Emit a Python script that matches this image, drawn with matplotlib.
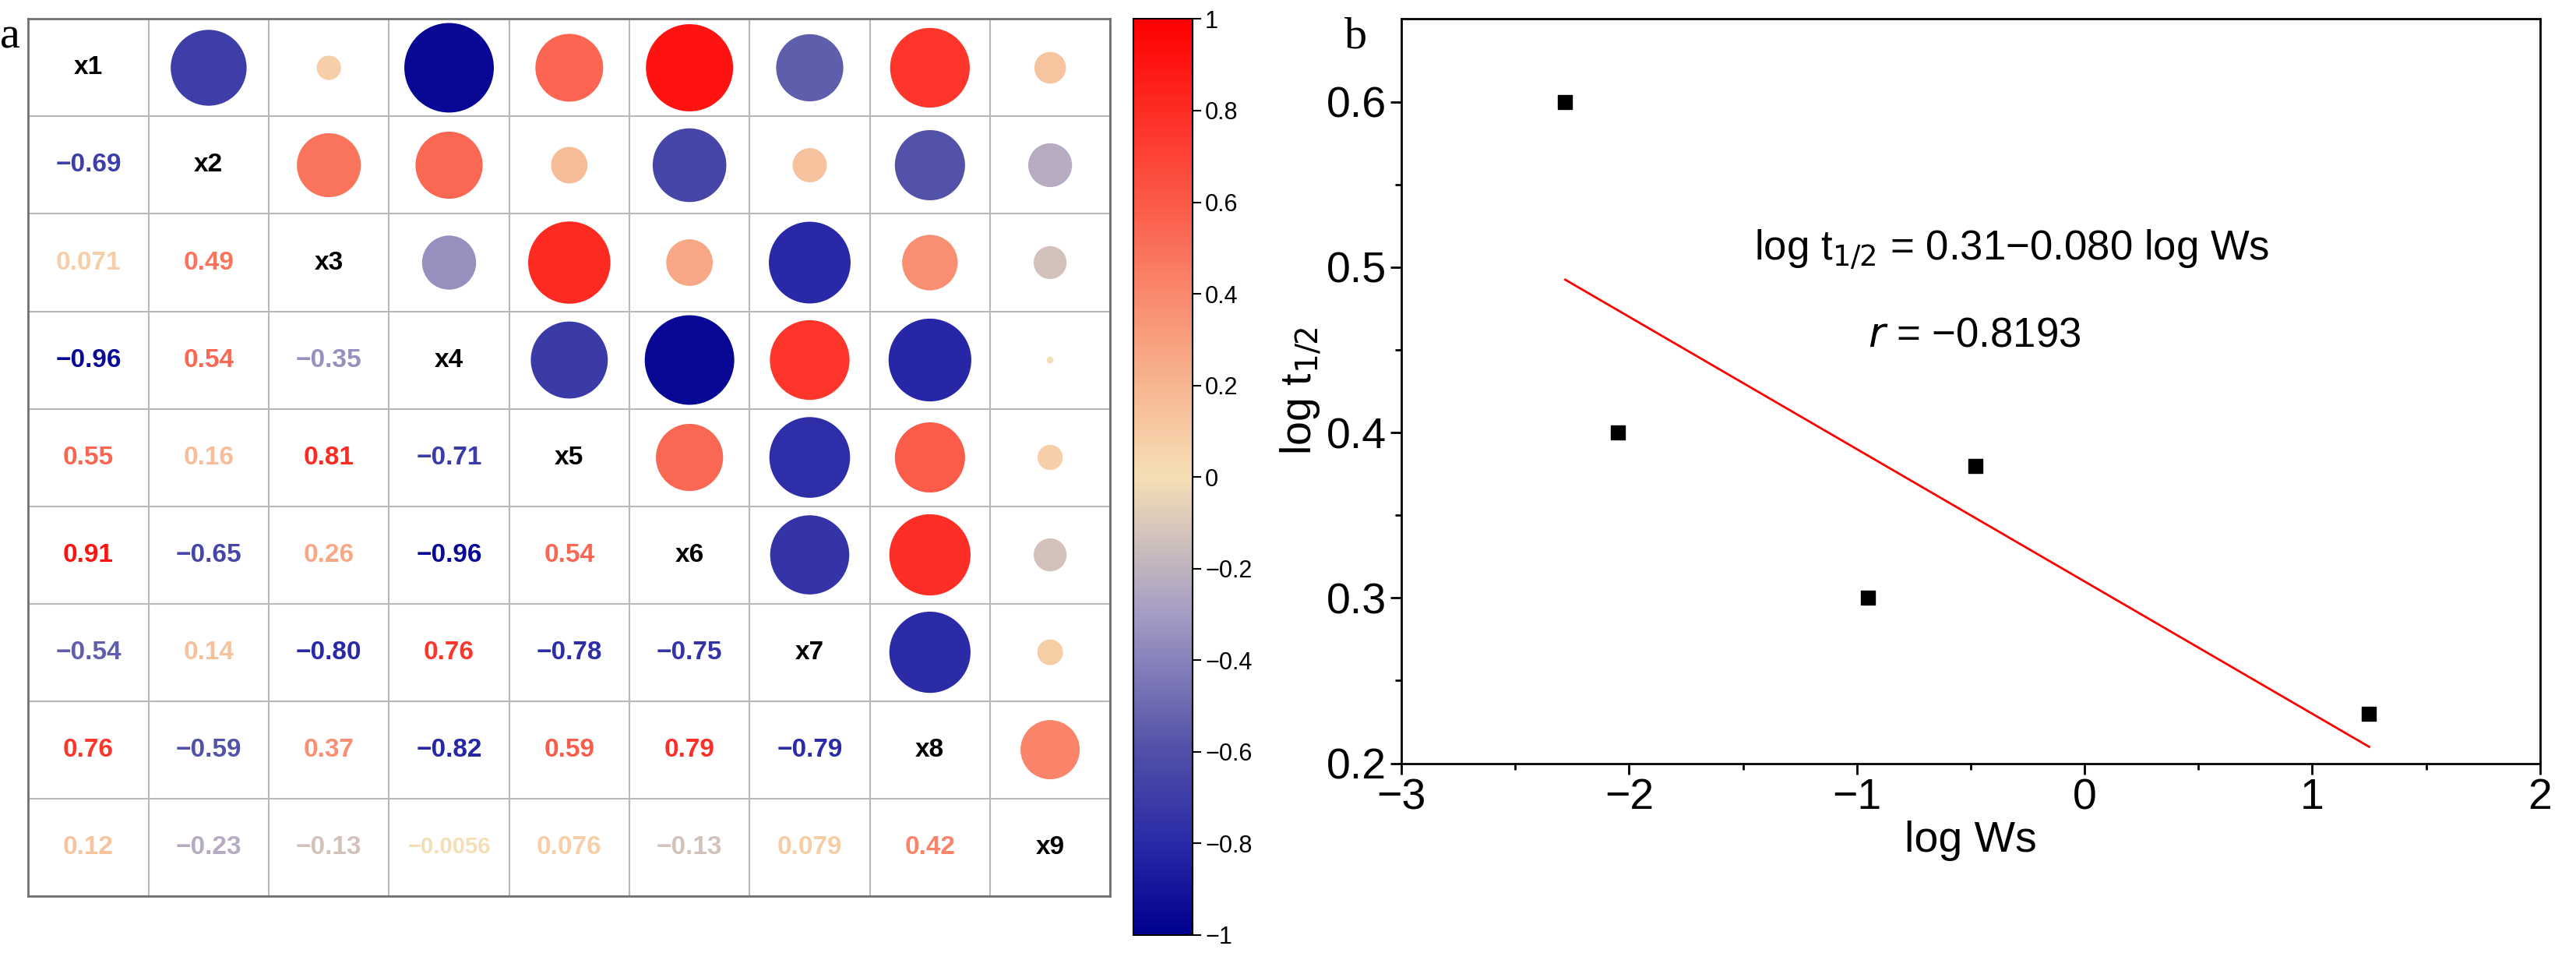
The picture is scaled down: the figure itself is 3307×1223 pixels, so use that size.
import numpy as np
import matplotlib
matplotlib.use("Agg")
import matplotlib.pyplot as plt
from matplotlib.colors import LinearSegmentedColormap, Normalize
from matplotlib.patches import Ellipse

labels = ["x1","x2","x3","x4","x5","x6","x7","x8","x9"]
lower = [
    [],
    [-0.69],
    [0.071, 0.49],
    [-0.96, 0.54, -0.35],
    [0.55, 0.16, 0.81, -0.71],
    [0.91, -0.65, 0.26, -0.96, 0.54],
    [-0.54, 0.14, -0.80, 0.76, -0.78, -0.75],
    [0.76, -0.59, 0.37, -0.82, 0.59, 0.79, -0.79],
    [0.12, -0.23, -0.13, -0.0056, 0.076, -0.13, 0.079, 0.42],
]
log_ws = [-2.28, -2.05, -0.95, -0.48, 1.25]
log_t = [0.60, 0.40, 0.30, 0.38, 0.23]
intercept, slope = 0.31, -0.080

cmap = LinearSegmentedColormap.from_list("c", [
    (0.0, "#00008f"), (0.1, "#2a2aa8"), (0.2, "#5050a8"), (0.35, "#a49cc4"), (0.5, "#f5dfb5"),
    (0.65, "#f8a080"), (0.8, "#fb5a48"), (1.0, "#ff0000")])
norm = Normalize(-1, 1)

fig = plt.figure(figsize=(33.07, 12.23), dpi=100)
ax = fig.add_axes([0.011, 0.06, 0.42, 0.92])
n = len(labels)
ax.set_xlim(0, n); ax.set_ylim(n, 0)
for k in range(n + 1):
    ax.axhline(k, color="#b8b8b8", lw=1.5)
    ax.axvline(k, color="#b8b8b8", lw=1.5)
ax.set_xticks([]); ax.set_yticks([])
for s in ax.spines.values():
    s.set_color("#707070"); s.set_linewidth(2)
bbox = ax.get_position()
W = bbox.width * 33.07; H = bbox.height * 12.23
sy = W / H
for i in range(n):
    ax.text(i + 0.5, i + 0.5, labels[i], ha="center", va="center",
            fontsize=24, fontweight="bold", color="black", family="Liberation Sans")
    for j in range(i):
        r = lower[i][j]
        c = cmap(norm(r))
        if abs(r) >= 0.1: txt = f"{r:.2f}"
        elif abs(r) >= 0.01: txt = f"{r:.3f}"
        else: txt = f"{r:.4f}"
        ax.text(j + 0.5, i + 0.5, txt.replace("-", "\u2212"), ha="center", va="center",
                fontsize=24 if abs(r) >= 0.01 else 21, fontweight="bold", color=c,
                family="Liberation Sans")
        d = 0.76 * np.sqrt(abs(r))
        ax.add_patch(Ellipse((i + 0.5, j + 0.5), d, d * sy, color=c, lw=0))

cax = fig.add_axes([0.44, 0.019, 0.023, 0.961])
tv = np.round(np.arange(-1, 1.01, 0.2), 1)
cb = fig.colorbar(plt.cm.ScalarMappable(norm=norm, cmap=cmap), cax=cax, ticks=tv)
cb.ax.set_yticklabels([("%g" % (t + 0.0)).replace("-", "\u2212") if abs(t) > 1e-9 else "0" for t in tv],
                      family="Liberation Sans")
cb.ax.tick_params(labelsize=22, length=8, width=1.5)
cb.outline.set_linewidth(1.5)

bx = fig.add_axes([0.544, 0.199, 0.442, 0.781])
bx.scatter(log_ws, log_t, marker="s", s=180, color="black", zorder=3)
xs = np.array([min(log_ws), max(log_ws)])
bx.plot(xs, intercept + slope * xs, color="red", lw=2)
bx.set_xlim(-3, 2); bx.set_ylim(0.2, 0.65)
bx.set_xticks([-3, -2, -1, 0, 1, 2])
bx.set_xticklabels(["\u22123", "\u22122", "\u22121", "0", "1", "2"])
bx.set_yticks([0.2, 0.3, 0.4, 0.5, 0.6])
bx.set_xticks(np.arange(-2.5, 2, 1), minor=True)
bx.set_yticks(np.arange(0.25, 0.65, 0.1), minor=True)
bx.tick_params(labelsize=40, length=10, width=2)
bx.tick_params(which="minor", length=6, width=2)
for lab in bx.get_xticklabels() + bx.get_yticklabels():
    lab.set_family("Liberation Sans")
for s in bx.spines.values(): s.set_linewidth(2)
bx.set_xlabel("log Ws", fontsize=40, labelpad=2, family="Liberation Sans")
bx.set_ylabel("log t$_{1/2}$", fontsize=40, family="Liberation Sans")
bx.text(0.31, 0.69, "log t$_{1/2}$ = 0.31\u22120.080 log Ws", transform=bx.transAxes,
        fontsize=38, va="center", family="Liberation Sans")
bx.text(0.41, 0.575, "$r$ = \u22120.8193", transform=bx.transAxes, fontsize=38,
        va="center", family="Liberation Sans")

fig.text(0.0, 0.95, "a", fontsize=42, family="Liberation Serif")
fig.text(0.522, 0.95, "b", fontsize=42, family="Liberation Serif")
fig.savefig("out.png", dpi=100)
